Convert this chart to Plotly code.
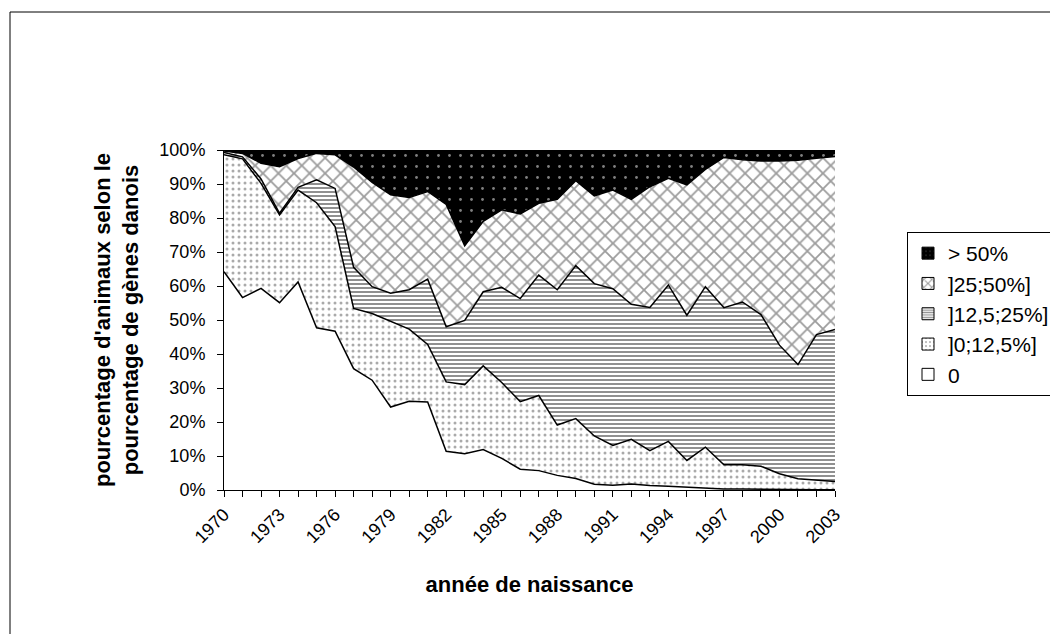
import plotly.graph_objects as go

years = list(range(1970, 2004))
tick_labels = [str(y) if (y - 1970) % 3 == 0 else "" for y in years]
y_ticks = list(range(0, 101, 10))
y_tick_labels = [f"{v}%" for v in y_ticks]

series_names = ["0", "]0;12,5%]", "]12,5;25%]", "]25;50%]", "> 50%"]

pct_0 = [64.2, 56.6, 59.3, 55.1, 61.2, 47.7, 46.7, 35.7, 32.3, 24.4, 26.1, 25.9,
         11.4, 10.7, 11.9, 9.3, 6.1, 5.7, 4.3, 3.4, 1.7, 1.4, 1.8, 1.3, 1.1, 0.8,
         0.5, 0.3, 0.3, 0.2, 0.2, 0.1, 0.1, 0.1]
pct_0_12 = [34.4, 40.8, 30.9, 25.8, 27.0, 36.8, 30.8, 17.7, 19.6, 25.3, 21.2, 16.9,
            20.4, 20.3, 24.6, 22.3, 19.9, 22.1, 14.8, 17.6, 14.2, 11.7, 13.1, 10.3,
            13.2, 7.9, 12.1, 7.1, 7.1, 6.8, 4.6, 3.2, 2.7, 2.4]
pct_12_25 = [0.7, 0.6, 1.3, 0.5, 0.8, 6.7, 11.2, 12.1, 7.9, 8.2, 11.6, 19.2,
             16.2, 18.9, 21.8, 28.0, 30.3, 35.4, 39.8, 45.0, 44.8, 46.1, 39.7, 42.1,
             46.0, 42.7, 47.2, 46.2, 47.9, 44.6, 37.8, 33.6, 42.9, 44.7]
pct_25_50 = [0.4, 1.0, 4.6, 13.7, 8.5, 7.8, 9.9, 29.5, 30.7, 28.9, 27.1, 25.8,
             36.0, 21.9, 20.7, 22.8, 24.9, 21.1, 26.6, 25.0, 25.8, 29.0, 30.9, 35.5,
             31.4, 38.3, 34.5, 44.2, 41.8, 45.2, 54.2, 60.1, 51.9, 50.9]
pct_50 = [0.3, 1.0, 3.9, 4.9, 2.5, 1.0, 1.4, 5.0, 9.5, 13.2, 14.0, 12.2,
          16.0, 28.2, 21.0, 17.6, 18.8, 15.7, 14.5, 9.0, 13.5, 11.8, 14.5, 10.8,
          8.3, 10.3, 5.7, 2.2, 2.9, 3.2, 3.2, 3.0, 2.4, 1.9]

series_values = [pct_0, pct_0_12, pct_12_25, pct_25_50, pct_50]

FONT = "Arial, Liberation Sans, sans-serif"

styles = [
    dict(color="white", pattern=None),
    dict(color="white", pattern=dict(shape=".", size=6, solidity=0.2,
                                     fgcolor="#555555", bgcolor="white")),
    dict(color="white", pattern=dict(shape="-", size=4, solidity=0.5,
                                     fgcolor="#222222", bgcolor="white")),
    dict(color="white", pattern=dict(shape="x", size=11, solidity=0.3,
                                     fgcolor="#3a3a3a", bgcolor="white")),
    dict(color="black", pattern=dict(shape=".", size=11, solidity=0.05,
                                     fgcolor="white", bgcolor="black")),
]

fig = go.Figure()

for name, vals, st in zip(series_names, series_values, styles):
    kw = {}
    if st["pattern"] is not None:
        kw["fillpattern"] = st["pattern"]
    fig.add_trace(go.Scatter(
        x=years, y=vals, name=name, mode="lines", stackgroup="one",
        line=dict(color="black", width=1.5), fillcolor=st["color"],
        showlegend=False, hoverinfo="x+y+name", **kw))

# legend entries (small patterned squares like the original)
for name, st in zip(series_names, styles):
    marker = dict(color=st["color"], line=dict(color="black", width=1))
    if st["pattern"] is not None:
        p = dict(st["pattern"])
        if p["shape"] == ".":
            p["size"] = 5
        if p["shape"] == "x":
            p["size"] = 7
            p["solidity"] = 0.35
        if p["shape"] == "-":
            p["size"] = 3
        marker["pattern"] = p
    fig.add_trace(go.Bar(x=[None], y=[None], name=name, marker=marker,
                         showlegend=True, hoverinfo="skip"))

# the page body has an 8px margin: build the figure in page coords minus 8
OFF = 8
W, H = 1050, 626
L = 224 - OFF
T = 150 - OFF
R = W - (835 - OFF)
B = H - (490 - OFF)
pw = W - L - R
ph = H - T - B

fig.update_layout(
    width=W, height=H,
    margin=dict(l=L, r=R, t=T, b=B, pad=0, autoexpand=False),
    paper_bgcolor="white", plot_bgcolor="white",
    font=dict(family=FONT, color="black", size=18),
    showlegend=True,
    legend=dict(x=(907 - OFF - L) / pw, y=(H - B - (232 - OFF)) / ph,
                xanchor="left", yanchor="top",
                traceorder="reversed", bordercolor="black", borderwidth=1,
                bgcolor="white", font=dict(family=FONT, size=21, color="black"),
                itemwidth=30),
    xaxis=dict(range=[1970, 2003], tickmode="array", tickvals=years,
               ticktext=tick_labels, tickangle=-45, ticks="outside", ticklen=6,
               tickcolor="black", showline=True, linecolor="black", linewidth=1,
               showgrid=False, zeroline=False, tickfont=dict(size=18),
               title=dict(text="<b>année de naissance</b>", font=dict(size=22),
                          standoff=30)),
    yaxis=dict(range=[0, 100], tickmode="array", tickvals=y_ticks,
               ticktext=y_tick_labels, ticks="outside",
               ticklen=6, tickcolor="black", showline=True, linecolor="black",
               linewidth=1, showgrid=False, zeroline=False, tickfont=dict(size=18),
               ticklabelstandoff=8,
               title=dict(text="<b>pourcentage d'animaux selon le<br>pourcentage de gènes danois</b>",
                          font=dict(size=22), standoff=14)),
)

# outer chart-area border
fig.add_shape(type="rect", xref="paper", yref="paper",
              x0=(10 - OFF - L) / pw, x1=(1075 - OFF - L) / pw,
              y0=(H - B - (650 - OFF)) / ph, y1=(H - B - (12 - OFF)) / ph,
              line=dict(color="black", width=1), fillcolor="rgba(0,0,0,0)",
              layer="below")

fig.write_html("out.html")
